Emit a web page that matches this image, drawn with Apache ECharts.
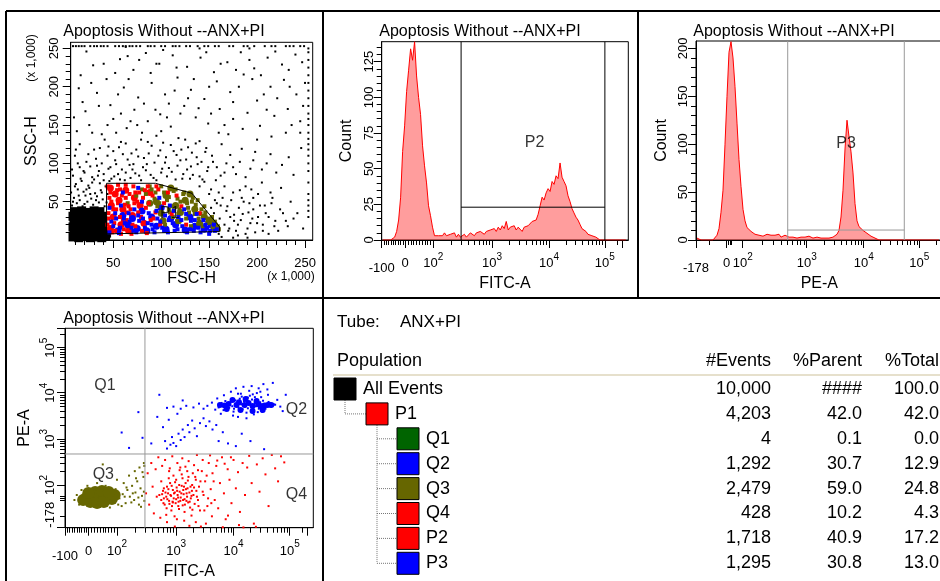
<!DOCTYPE html>
<html><head><meta charset="utf-8">
<script src="https://cdn.jsdelivr.net/npm/echarts@6/dist/echarts.min.js"></script>
<style>html,body{margin:0;padding:0;background:#fff}#c{width:940px;height:581px}</style>
</head><body><div id="c"></div>
<script>
// ===================== DATA =====================
const PLOT_TITLE = 'Apoptosis Without --ANX+PI';

// --- Top-left: FSC-H vs SSC-H (x 1,000) ---
const FSC_RANGE = [5.6, 258];
const SSC_RANGE = [0, 258];
const LIN_MAJOR = [50, 100, 150, 200, 250];
const LIN_MINOR = [10,20,30,40,60,70,80,90,110,120,130,140,160,170,180,190,210,220,230,240];
const LIN_LABELS = ['50', '100', '150', '200', '250'];

const P1_GATE = [[43,74],[94,74],[132,61],[161,17],[161,11],[43,8],[43,74]];
const P1_LABEL = [109, 35];

const BLACK_DENSE = [[8,4],[14,3],[20,5],[26,3],[32,4],[38,3],[42,5],[9,10],[15,11],[21,9],[27,11],[33,10],[39,11],[43,9],
 [8,17],[14,16],[20,18],[26,17],[32,16],[38,18],[9,24],[15,23],[21,25],[27,24],[33,23],[39,25],
 [8,31],[14,30],[20,32],[26,31],[32,30],[38,31],[10,37],[17,38],[24,36],[30,38],[36,37]];
const BLACK_DOTS = [[7,45],[12,48],[18,44],[23,50],[29,46],[35,49],[41,44],[9,55],[15,52],[21,58],[27,54],[33,57],[39,53],[44,60],[6,62],[13,66],[19,63],[25,68],[31,61],[37,65],[11,73],[17,77],[24,71],[30,79],[36,74],[42,70],[8,84],[20,88],[28,82],[35,90],[15,95],[40,86],[22,102],[33,97],[10,110],[45,93],
 [48,80],[55,86],[62,78],[70,92],[77,84],[85,99],[92,81],[100,88],[108,94],[115,79],[123,86],[131,96],[140,83],[148,90],[157,78],[166,88],[175,95],[188,82],[52,104],[60,112],[67,98],[74,118],[82,107],[90,123],[97,110],[104,101],[113,116],[120,104],[128,121],[137,108],[146,115],[154,102],[163,125],[172,111],[184,119],[196,104],[205,92],[214,112],[226,98],[238,85],[246,120],[58,128],[79,131],[95,136],[118,133],[140,129],[170,138],[200,131],[230,140],
 [12,142],[25,150],[38,138],[50,158],[64,146],[72,170],[86,155],[99,164],[110,148],[124,175],[136,160],[149,152],[161,171],[175,158],[190,166],[203,149],[218,162],[232,171],[245,155],[18,180],[33,192],[47,176],[61,199],[76,186],[90,205],[104,190],[117,212],[131,196],[145,184],[158,207],[172,193],[186,216],[200,182],[214,200],[228,209],[241,190],[16,215],[29,228],[43,210],[57,236],[71,222],[84,244],[98,230],[112,241],[127,226],[141,238],[155,219],[169,232],[183,245],[197,224],[211,238],[226,229],[240,242],[22,246],[66,210],[108,178],[150,200],[192,235],[236,150],[120,165],[80,140],[45,122],[30,118],[15,125],[55,190],[95,230],[175,180],[210,170],[250,205],[140,250],[65,240],
 [150,60],[156,52],[162,45],[168,38],[172,30],[176,25],[180,20],[185,34],[190,15],[195,28],[200,22],[206,12],[212,30],[218,18],[224,40],[230,25],[166,70],[175,62],[184,55],[192,48],[201,60],[208,45],[216,55],[225,68],[235,50],[242,35],[248,15],[160,8],[170,12],[180,6],[196,40],[205,75],[140,70],[145,76],[130,80],[188,70],
 [46,77],[51,83],[57,79],[63,88],[68,81],[73,87],[79,78],[84,91],[89,85],[95,78],[101,93],[106,83],[111,89],[117,97],[122,80],[127,92],[133,85],[138,99],[143,79],[149,95],[47,95],[53,99],[59,92],[65,105],[71,99],[76,109],[81,95],[87,113],[93,101],[99,117],[105,108],[110,124],[116,111],[121,118],[126,105],[132,114],[136,126],[142,102],[147,120],[153,110],[50,116],[56,121],[63,126],[69,113],[86,128],[102,127],[125,131],[158,95],[162,84],[168,100],[178,86],[182,102],[193,93],[198,115],[210,100],[220,88],[233,108],
 [8,50],[14,58],[20,47],[26,60],[32,52],[38,62],[43,49],[10,70],[16,80],[22,66],[28,75],[34,84],[40,78],[7,92],[13,100],[19,90],[26,96],[32,106],[38,100],[44,110],[11,118],[24,112],[36,120],[41,131],
 [152,42],[155,35],[158,48],[161,28],[164,55],[166,20],[169,44],[171,15],[173,52],[176,33],[178,12],[181,42],[183,26],[186,50],[188,8],[191,36],[193,22],[196,55],[198,10],[201,30],[203,45],[206,20],[209,35],[212,8],[215,48],[219,25],[222,12],[227,35],[232,18],[238,28],[163,4],[175,3],[190,3],[152,66],[160,62],[182,65],[194,66],[214,62],
 [9,160],[21,168],[35,175],[44,150],[58,165],[68,155],[82,178],[94,170],[106,160],[114,195],[128,185],[139,172],[152,165],[166,150],[181,200],[195,210],[207,190],[221,185],[234,200],[248,175],[14,198],[27,205],[40,230],[52,218],[63,252],[77,235],[89,218],[102,248],[116,225],[134,210],[147,245],[162,230],[178,222],[192,250],[204,215],[219,246],[233,222],[247,232],[28,140],[53,140],[75,150],[100,142],[160,140],[185,145],[215,135],[245,140]];
const SAT_TOP_X = [8,11,14,17,20,26,30,33,37,40,44,52,56,60,63,67,70,74,78,86,89,93,100,104,112,115,119,126,130,138,145,149,156,160,171,175,186,190,197,208,215,219,230,234,238,245,249];
const SAT_TOP_Y = 253;
const SAT_RIGHT_Y = [30,38,45,52,60,75,90,100,110,118,125,132,140,150,158,165,175,185,195,205,215,225,235,245,250];
const SAT_RIGHT_X = 253.5;

const P1_RED_BIG = [[47,15],[50,30],[48,45],[52,60],[47,68],[58,20],[60,40],[56,52],[63,65],[66,12],[70,32],[72,55],[78,45],[82,22],[88,62]];
const P1_BLUE_BIG = [[55,12],[65,20],[75,15],[85,12],[95,18],[105,14],[115,20],[125,13],[135,18],[145,14],[152,20],[70,28],[90,30],[110,28],[130,30],[60,32],[100,42],[80,38]];
const P1_OLIVE_BIG = [[95,50],[105,58],[115,45],[125,52],[120,36],[135,40],[145,30],[140,22],[110,68],[100,35],[88,48],[130,60],[150,24],[155,16],[118,25],[102,25]];
const P1_RED = [[44,20],[45,35],[46,55],[44,70],[49,10],[51,22],[53,40],[54,65],[57,30],[59,58],[61,14],[62,46],[64,26],[67,60],[68,40],[71,70],[73,18],[75,50],[77,62],[79,30],[81,55],[84,42],[86,70],[89,26],[91,58],[94,36],[97,66],[99,20],[103,48],[107,62],[111,34],[116,58],[121,44],[126,20],[48,50],[55,72],[63,72],[69,8],[85,9],[140,35],
 [45,28],[47,62],[50,40],[52,12],[55,48],[57,66],[60,25],[63,55],[66,44],[70,20],[73,62],[76,36],[80,12],[83,65],[87,48],[92,28],[95,70],[58,8],[64,36],[72,48]];
const P1_BLUE = [[46,10],[50,18],[53,28],[56,9],[58,45],[62,22],[66,35],[69,16],[72,40],[74,10],[77,25],[80,50],[83,16],[87,35],[90,20],[93,10],[96,28],[98,55],[101,16],[104,32],[107,10],[109,45],[112,22],[114,12],[118,30],[122,18],[124,40],[127,10],[131,25],[134,12],[137,34],[141,10],[144,26],[148,16],[151,12],[155,20],[158,14],[46,42],[60,62],[76,68],
 [48,24],[52,35],[57,16],[61,28],[67,24],[71,12],[76,32],[81,28],[86,22],[91,14],[95,38],[99,24],[103,12],[108,26],[113,38],[117,14],[121,26],[126,34],[130,14],[135,26],[139,16],[146,20],[150,8],[156,12]];
const P1_OLIVE = [[84,60],[90,66],[96,44],[100,70],[106,52],[108,40],[113,64],[117,54],[119,40],[123,60],[127,48],[129,36],[133,55],[136,46],[139,28],[142,40],[146,36],[149,28],[153,30],[156,24],[159,18],[112,30],[104,20],[93,54],[126,28],[65,48],[74,58],[80,66],[131,18],[143,18],
 [88,70],[94,62],[98,48],[103,62],[108,56],[111,44],[115,66],[120,50],[124,62],[128,42],[132,50],[135,34],[138,52],[141,34],[145,44],[148,22],[152,26],[157,20],[160,14],[118,34],[109,36]];

// --- Logicle-style display scales: [value, display channel] ---
const FITC_ANCHORS = [[-100,0],[0,23.5],[100,51.8],[1000,110.8],[10000,168],[100000,224],[262144,241]];
const PE_H_ANCHORS = [[-178,0],[0,30.7],[100,46.7],[1000,110.7],[10000,167.7],[100000,223.3],[262144,246.6]];
const PE_D_ANCHORS = [[-178,0],[0,26],[100,42.7],[1000,88.7],[10000,135],[100000,180],[262144,199]];
const FITC_RANGE = [-100, 379000];
const PE_H_RANGE = [-178, 262144];
const PE_D_RANGE = [-178, 267000];

const FITC_TICKS_MAJOR = [-100,0,100,1000,10000,100000,262144];
const FITC_TICKS_MINOR = [-90,-80,-70,-60,-50,-40,-30,-20,-10,10,20,30,40,50,60,70,80,90,
  200,300,400,500,600,700,800,900,2000,3000,4000,5000,6000,7000,8000,9000,
  20000,30000,40000,50000,60000,70000,80000,90000,200000];
const FITC_LABEL_VALUES = [-100,0,100,1000,10000,100000];
const FITC_LABEL_TEXT = ['-100','0','10^2','10^3','10^4','10^5'];

const PE_TICKS_MAJOR = [-178,0,100,1000,10000,100000,262144];
const PE_TICKS_MINOR = [-100,10,20,30,200,300,400,500,600,700,800,900,2000,3000,4000,5000,6000,7000,8000,9000,
  20000,30000,40000,50000,60000,70000,80000,90000,200000];
const PE_LABEL_VALUES = [-178,0,100,1000,10000,100000];
const PE_LABEL_TEXT = ['-178','0','10^2','10^3','10^4','10^5'];

// --- Histograms (counts per 2-channel bin, from channel 0) ---
const HIST_BIN = 2;
const FITC_COUNT_RANGE = [0, 139];
const FITC_COUNT_MAJOR = [0,25,50,75,100,125];
const FITC_COUNT_MINOR = [5,10,15,20,30,35,40,45,55,60,65,70,80,85,90,95,105,110,115,120,130,135];
const FITC_COUNT_LABELS = ['0','25','50','75','100','125'];
const FITC_HIST_COUNTS = [0,0,0,0,0,1,
  2,6,14,30,62,80,104,119,134,126,139,115,100,88,66,52,40,24,17,9,3,2,3,
  4,3,5,3,2,4,3,5,2,4,
  2,3,4,2,3,5,4,3,5,4,6,5,4,6,5,7,6,
  8,6,9,7,10,8,13,7,9,8,10,7,9,8,6,9,8,10,11,13,
  12,14,18,24,30,28,33,36,34,41,39,45,43,54,44,41,38,31,27,22,19,16,14,11,8,7,6,4,5,3,2,2,1,
  0,0,0,0,0,0,0,0,0,0,0,0,0,0];
const P2_GATE = {from: 297, to: 100000, count: 23};
const P2_LABEL = [5570, 68];

const PE_COUNT_RANGE = [0, 207.7];
const PE_COUNT_MAJOR = [0,50,100,150,200];
const PE_COUNT_MINOR = [10,20,30,40,60,70,80,90,110,120,130,140,160,170,180,190];
const PE_COUNT_LABELS = ['0','50','100','150','200'];
const PE_HIST_COUNTS = [2,1,0,0,0,0,0,1,0,2,
  5,12,29,52,100,150,196,207,190,160,122,84,56,32,20,13,11,9,8,
  6,7,5,6,4,5,6,4,5,3,5,4,6,3,4,5,
  4,3,5,3,4,2,4,3,5,3,2,4,3,2,4,3,3,2,4,2,3,2,4,3,5,
  6,10,24,52,95,125,108,92,70,38,20,14,12,10,8,7,5,4,3,2,1,
  0,0,0,0,0,0,0,0,0,0,0,0,0,0,0,0,0,0,0,0,0,0,0,0,0,0,0,0,0,0,0];
const P3_GATE = {from: 505, to: 53700, count: 10.4};
const P3_LABEL = [4900, 101];

// --- Bottom-left: FITC-A vs PE-A (real values) ---
const QUAD_FITC = 297;
const QUAD_PE = 472;
const Q_LABELS = [['Q1',58,14600],['Q2',147000,4230],['Q3',52,165],['Q4',147000,40]];
const Q3_CORE = [[-10,22],[16,34],[40,34],[64,28],[82,16],[6,-2],[30,-9],[54,-2],[23,58],[47,64],[-23,10],[92,40],[-1,52],[71,58]];
const Q3_DOTS = [[110,20],[125,45],[140,-10],[150,70],[165,30],[180,95],[195,10],[205,55],[220,120],[235,-20],[250,80],[265,35],[280,150],[290,5],[130,110],[160,160],[200,200],[240,240],[270,190],[120,-30],[145,85],[175,-5],[210,140],[255,-35],[285,60],[95,75],[105,-20],[135,30],[185,50],[230,25],[-60,10],[-50,40],[-40,-20],[-30,70],[60,95],[75,-40],[30,110],[-5,95],[50,280],[100,130],[290,260],[285,300]];
const Q2_CORE = [[5800,5420],[8180,5700],[11300,5420],[15700,5420],[21800,5160],[30300,5160],[40500,5420],[9600,6960],[16400,7300],[25700,6600],[13300,4230],[21800,4000],[7600,4450],[33000,4230],[12500,6200],[18500,6000],[27500,5600],[35500,5300],[7000,5300],[47000,5400]];
const Q2_DOTS = [[3500,5200],[4200,6100],[4800,4300],[5200,7500],[6000,3500],[6800,8800],[7500,5000],[9000,10500],[9800,3200],[11000,12500],[12000,3000],[13500,9500],[15000,13500],[17000,2800],[19000,11000],[21000,14000],[23000,3400],[26000,9800],[28000,12500],[31000,8000],[34000,15500],[37000,4500],[41000,9000],[45000,6000],[50000,16500],[55000,5500],[60000,7000],[68000,5000],[75000,4000],[85000,9000],[3000,4500],[2500,5800],[2000,4800],[1500,5200],[1200,4500],[900,5000],[700,4700],[18000,7800],[25000,6200],[40000,11800],
 [650,900],[700,620],[800,750],[850,1100],[900,820],[1000,700],[1100,1300],[1200,950],[1300,1600],[1400,1100],[1600,2000],[1700,1400],[1900,2500],[2100,1700],[2300,1150],[2600,2200],[3000,2800],[3300,1900],[3800,2400],[4300,1600],[5000,2000],[5500,900],[6500,1400],[8000,800],[11000,700],[14000,1300],[20000,900],[35000,600],[600,1800],[480,3000],[380,800],[1050,3500],[750,2600],[1300,6800],[520,9000],
 [5500,4800],[6200,6000],[6700,4200],[7200,6600],[7800,5300],[8400,4700],[8900,6300],[9500,5100],[10200,4500],[10800,6800],[11500,5900],[12200,4800],[12900,7400],[13700,5600],[14500,4400],[15300,6500],[16200,5000],[17100,7900],[18000,4600],[19000,6100],[20100,5400],[21300,7100],[22500,4700],[23800,5900],[25100,5100],[26600,7000],[28200,4500],[29800,6200],[31500,5300],[33500,6700],[35500,4800],[38000,5700],[42000,6300],[46000,5000],[52000,5600],[14000,8200],[19500,8600],[24000,8000],[27000,3800],[10000,3900],[17000,3700],[32000,3900],[12000,9500],[22000,9200],[30000,10500]];
const Q1_DOTS = [[120,1380],[230,3800],[270,1060],[160,640]];
const Q4_DOTS = [[520,40],[560,10],[600,65],[640,-20],[680,30],[700,90],[730,50],[760,5],[790,110],[820,35],[850,-30],[880,70],[910,20],[950,55],[980,-10],[1020,85],[1060,40],[1100,0],[1150,60],[1200,25],[1250,95],[1300,-25],[1350,45],[1400,15],[1480,75],[1550,30],[1620,-5],[1700,55],[1800,20],[1900,100],[2000,40],[2100,-15],[2250,65],[2400,10],[560,120],[620,80],[690,-45],[750,140],[830,-60],[900,160],[1000,130],[1120,-50],[1250,170],[1400,-70],[1600,125],[1750,-40],[1950,180],[2200,130],[2500,90],[620,20],[880,-5],[1080,25],[1330,70],[1520,50],[1880,65],
 [310,50],[330,180],[350,-20],[380,300],[400,90],[420,-80],[450,220],[470,30],[500,400],[540,-110],[580,260],[650,350],[700,-140],[780,230],[860,420],[940,-100],[1050,300],[1150,210],[1280,380],[1380,-130],[1450,250],[1650,330],[1850,-95],[2050,270],[2300,450],[2600,-60],[2800,200],[3000,40],[3200,120],[3500,-30],[3700,300],[4000,75],[4300,180],[4700,10],[5000,260],[5400,-45],[5800,110],[6300,400],[6800,50],[7300,-120],[7900,220],[8500,130],[9200,-10],[10000,350],[11000,80],[12000,190],[13000,-70],[14500,300],[16000,40],[17500,240],[19000,430],[21000,110],[23000,-150],[26000,280],[29000,60],[33000,380],[37000,170],[42000,-30],[48000,450],[55000,230],[62000,120],[70000,420],[80000,310],[3300,-150],[2700,-170],[6500,-175],[15000,-176],[25000,-172],[8000,-95],[12500,-160],[4200,-100],[2200,-140],[1700,-165],[950,-170],[5200,340],[7000,290],[9000,400],[3900,440],[2900,350],
 [580,45],[610,-10],[660,55],[710,15],[740,75],[770,-15],[800,40],[840,95],[870,0],[920,50],[960,115],[1000,15],[1040,65],[1090,-30],[1130,100],[1180,5],[1230,50],[1290,140],[1320,10],[1370,90],[1420,-20],[1460,110],[1510,5],[1580,80],[1640,150],[1720,0],[1780,90],[1850,35],[1920,-55],[2050,85],[2150,150],[2300,30],[2450,-30],[2650,120],[2900,60],[3100,-60],[3400,160],[3600,20],[4100,-10],[4500,120],[760,200],[1180,240],[1560,200],[2400,210],[680,-90],[1030,-120]];

// --- Statistics table ---
const TUBE_NAME = 'ANX+PI';
const TABLE_HEADERS = ['Population', '#Events', '%Parent', '%Total'];
const POP_NAMES = ['All Events','P1','Q1','Q2','Q3','Q4','P2','P3'];
const POP_LEVEL = [0,1,2,2,2,2,2,2];
const POP_COLORS = ['#000000','#ff0000','#006400','#0000ff','#666600','#ff0000','#ff0000','#0000ff'];
const POP_EVENTS = [10000,4203,4,1292,2479,428,1718,1295];
const POP_PARENT = [null,42.0,0.1,30.7,59.0,10.2,40.9,30.8];
const POP_TOTAL = [100.0,42.0,0.0,12.9,24.8,4.3,17.2,13.0];

// ===================== HELPERS =====================
const FONT = "'Liberation Sans', Arial, sans-serif";
const TICK_FONT = "'Liberation Sans Narrow', 'Liberation Sans', Arial, sans-serif";
const RED = '#ff0000', BLUE = '#0000ff', OLIVE = '#666600';

function makeMap(anchors) {
  return function (v) {
    const n = anchors.length;
    for (let i = 0; i < n - 1; i++) {
      const a = anchors[i], b = anchors[i + 1];
      if (v <= b[0] || i === n - 2) {
        if (a[0] >= 100) {
          const lv = Math.log10(Math.max(v, 1));
          return a[1] + (lv - Math.log10(a[0])) / (Math.log10(b[0]) - Math.log10(a[0])) * (b[1] - a[1]);
        }
        return a[1] + (v - a[0]) / (b[0] - a[0]) * (b[1] - a[1]);
      }
    }
  };
}
const ident = v => v;
const fitcMap = makeMap(FITC_ANCHORS), peHMap = makeMap(PE_H_ANCHORS), peDMap = makeMap(PE_D_ANCHORS);

const RICH = {
  b: {fontSize: 13, fontFamily: TICK_FONT, color: '#000', padding: [5, 0, 0, 0], verticalAlign: 'bottom'},
  s: {fontSize: 10, fontFamily: TICK_FONT, color: '#000', verticalAlign: 'top'},
  lo: {fontSize: 13, fontFamily: TICK_FONT, color: '#000', padding: [10, 0, 0, 0], verticalAlign: 'bottom'}
};
function fmtLabel(t) {
  if (!t) return '';
  if (t.indexOf('^') > 0) { const p = t.split('^'); return '{b|' + p[0] + '}{s|' + p[1] + '}'; }
  if (t.charAt(0) === '-') return '{lo|' + t + '}';
  return '{b|' + t + '}';
}

function axisPair(dim, g, cfg) {
  const m = cfg.map || ident;
  const texts = {};
  cfg.labels.forEach((v, i) => { texts[m(v).toFixed(3)] = cfg.texts[i]; });
  const base = {type: 'value', gridIndex: g, min: m(cfg.range[0]), max: m(cfg.range[1]),
    splitLine: {show: false}, splitArea: {show: false}, position: dim === 'x' ? 'bottom' : 'left'};
  const major = Object.assign({}, base, {
    axisLine: {show: true, onZero: false, lineStyle: {color: '#000', width: 1}},
    axisTick: {show: true, length: 8, customValues: cfg.major.map(m), lineStyle: {color: '#000', width: 1}},
    axisLabel: {show: true, customValues: cfg.labels.map(m), margin: cfg.margin,
      rotate: dim === 'y' ? 90 : 0, hideOverlap: false, showMinLabel: true, showMaxLabel: true,
      alignMinLabel: cfg.alignMin || null,
      formatter: v => fmtLabel(texts[Number(v).toFixed(3)]), rich: RICH},
    name: cfg.name, nameLocation: 'middle', nameGap: cfg.nameGap,
    nameTextStyle: {fontSize: 16, fontFamily: FONT, color: '#000'}
  });
  const minor = Object.assign({}, base, {
    axisLine: {show: false, onZero: false},
    axisTick: {show: true, length: 5, customValues: cfg.minor.map(m), lineStyle: {color: '#000', width: 1}},
    axisLabel: {show: false}
  });
  return [major, minor];
}

// ===================== AXES =====================
const xAxes = [], yAxes = [];
xAxes.push(...axisPair('x', 0, {range: FSC_RANGE, major: LIN_MAJOR, minor: LIN_MINOR, labels: LIN_MAJOR, texts: LIN_LABELS, name: 'FSC-H', nameGap: 27, margin: 12}));
yAxes.push(...axisPair('y', 0, {range: SSC_RANGE, major: LIN_MAJOR, minor: LIN_MINOR, labels: LIN_MAJOR, texts: LIN_LABELS, name: 'SSC-H', nameGap: 31, margin: 10}));
xAxes.push(...axisPair('x', 1, {map: fitcMap, range: FITC_RANGE, major: FITC_TICKS_MAJOR, minor: FITC_TICKS_MINOR, labels: FITC_LABEL_VALUES, texts: FITC_LABEL_TEXT, name: 'FITC-A', nameGap: 35, margin: 12}));
yAxes.push(...axisPair('y', 1, {range: FITC_COUNT_RANGE, major: FITC_COUNT_MAJOR, minor: FITC_COUNT_MINOR, labels: FITC_COUNT_MAJOR, texts: FITC_COUNT_LABELS, name: 'Count', nameGap: 27, margin: 6}));
xAxes.push(...axisPair('x', 2, {map: peHMap, range: PE_H_RANGE, major: PE_TICKS_MAJOR, minor: PE_TICKS_MINOR, labels: PE_LABEL_VALUES, texts: PE_LABEL_TEXT, name: 'PE-A', nameGap: 34, margin: 12}));
yAxes.push(...axisPair('y', 2, {range: PE_COUNT_RANGE, major: PE_COUNT_MAJOR, minor: PE_COUNT_MINOR, labels: PE_COUNT_MAJOR, texts: PE_COUNT_LABELS, name: 'Count', nameGap: 26, margin: 6}));
xAxes.push(...axisPair('x', 3, {map: fitcMap, range: FITC_RANGE, major: FITC_TICKS_MAJOR, minor: FITC_TICKS_MINOR, labels: FITC_LABEL_VALUES, texts: FITC_LABEL_TEXT, name: 'FITC-A', nameGap: 34, margin: 12}));
yAxes.push(...axisPair('y', 3, {map: peDMap, range: PE_D_RANGE, major: PE_TICKS_MAJOR, minor: PE_TICKS_MINOR, labels: PE_LABEL_VALUES, texts: PE_LABEL_TEXT, name: 'PE-A', nameGap: 32, margin: 8, alignMin: 'left'}));

// ===================== SERIES =====================
const S = [];
function scat(g, data, color, size, symbol, z) {
  S.push({type: 'scatter', xAxisIndex: 2 * g, yAxisIndex: 2 * g, data: data, symbol: symbol || 'rect',
    symbolSize: size, itemStyle: {color: color, opacity: 1}, silent: true, z: z || 2, animation: false});
}
function lineS(g, data, color, z) {
  S.push({type: 'line', xAxisIndex: 2 * g, yAxisIndex: 2 * g, data: data, symbol: 'none', silent: true,
    lineStyle: {color: color, width: 1}, z: z || 6, animation: false});
}
function labelPt(g, pt, text) {
  S.push({type: 'scatter', xAxisIndex: 2 * g, yAxisIndex: 2 * g, data: [pt], symbolSize: 0, silent: true, z: 12,
    label: {show: true, position: 'inside', formatter: text, fontSize: 16, fontFamily: FONT, color: '#000'}});
}
function hist(g, counts) {
  S.push({type: 'line', xAxisIndex: 2 * g, yAxisIndex: 2 * g, symbol: 'none', silent: true, z: 3,
    data: counts.map((c, i) => [(i + 0.5) * HIST_BIN, c]),
    lineStyle: {color: RED, width: 1}, areaStyle: {color: 'rgba(255,0,0,0.55)'}});
}

// top-left
scat(0, BLACK_DENSE, '#000', 9, 'rect', 2);
scat(0, BLACK_DOTS, '#000', 2, 'rect', 2);
scat(0, SAT_TOP_X.map(x => [x, SAT_TOP_Y]), '#000', 2, 'rect', 2);
scat(0, SAT_RIGHT_Y.map(y => [SAT_RIGHT_X, y]), '#000', 2, 'rect', 2);
scat(0, P1_RED_BIG, RED, 7, 'circle', 3);
scat(0, P1_BLUE_BIG, BLUE, 7, 'circle', 3);
scat(0, P1_OLIVE_BIG, OLIVE, 7, 'circle', 3);
scat(0, P1_OLIVE, OLIVE, 4, 'rect', 4);
scat(0, P1_RED, RED, 4, 'rect', 4);
scat(0, P1_BLUE, BLUE, 4, 'rect', 4);
lineS(0, P1_GATE, '#000', 8);
labelPt(0, P1_LABEL, 'P1');

// top-middle histogram
hist(1, FITC_HIST_COUNTS);
const fy = FITC_COUNT_RANGE[1];
lineS(1, [[fitcMap(P2_GATE.from), 0], [fitcMap(P2_GATE.from), fy]], '#000');
lineS(1, [[fitcMap(P2_GATE.to), 0], [fitcMap(P2_GATE.to), fy]], '#000');
lineS(1, [[fitcMap(P2_GATE.from), P2_GATE.count], [fitcMap(P2_GATE.to), P2_GATE.count]], '#000');
labelPt(1, [fitcMap(P2_LABEL[0]), P2_LABEL[1]], 'P2');

// top-right histogram
hist(2, PE_HIST_COUNTS);
const py = PE_COUNT_RANGE[1];
lineS(2, [[peHMap(P3_GATE.from), 0], [peHMap(P3_GATE.from), py]], '#999');
lineS(2, [[peHMap(P3_GATE.to), 0], [peHMap(P3_GATE.to), py]], '#999');
lineS(2, [[peHMap(P3_GATE.from), P3_GATE.count], [peHMap(P3_GATE.to), P3_GATE.count]], '#999');
labelPt(2, [peHMap(P3_LABEL[0]), P3_LABEL[1]], 'P3');

// bottom-left dot plot
const tr = pts => pts.map(p => [fitcMap(p[0]), peDMap(p[1])]);
scat(3, tr(Q3_CORE), OLIVE, 12, 'circle', 3);
scat(3, tr(Q3_DOTS), OLIVE, 2, 'rect', 3);
scat(3, tr(Q2_CORE), BLUE, 6, 'circle', 3);
scat(3, tr(Q2_DOTS), BLUE, 2, 'rect', 3);
scat(3, tr(Q1_DOTS), BLUE, 2, 'rect', 3);
scat(3, tr(Q4_DOTS), RED, 2, 'rect', 3);
const dx0 = fitcMap(FITC_RANGE[0]), dx1 = fitcMap(FITC_RANGE[1]), dy0 = peDMap(PE_D_RANGE[0]), dy1 = peDMap(PE_D_RANGE[1]);
lineS(3, [[fitcMap(QUAD_FITC), dy0], [fitcMap(QUAD_FITC), dy1]], '#999');
lineS(3, [[dx0, peDMap(QUAD_PE)], [dx1, peDMap(QUAD_PE)]], '#999');
Q_LABELS.forEach(q => labelPt(3, [fitcMap(q[1]), peDMap(q[2])], q[0]));

// ===================== GRAPHICS (frames, titles, table) =====================
const G = [];
function txt(t, x, y, align, size, extra) {
  return Object.assign({type: 'text', x: x, y: y, silent: true, z: 20,
    style: {text: t, fill: '#000', fontSize: size || 16, fontFamily: FONT, align: align || 'left', verticalAlign: 'middle'}}, extra || {});
}
function ln(x1, y1, x2, y2, w, color, dash) {
  return {type: 'line', silent: true, z: 20, shape: {x1: x1, y1: y1, x2: x2, y2: y2},
    style: {stroke: color || '#000', lineWidth: w || 1, lineDash: dash || null}};
}
// panel frames
G.push(ln(6, 11, 940, 11, 2), ln(6, 11, 6, 581, 2), ln(323, 11, 323, 581, 2), ln(638, 11, 638, 298, 2), ln(6, 298, 940, 298, 2));
// titles
[[164, 32], [480, 32], [794, 32], [164, 319]].forEach(p => G.push(txt(PLOT_TITLE, p[0], p[1], 'center', 16)));
G.push(txt('(x 1,000)', 291, 277, 'center', 12));
G.push(txt('(x 1,000)', 32, 58, 'center', 12, {rotation: Math.PI / 2}));

// table
G.push(txt('Tube:', 337, 322, 'left', 17), txt(TUBE_NAME, 400, 322, 'left', 17));
const HDR_Y = 361;
const COL_RIGHT = [771, 862, 939];
G.push(txt(TABLE_HEADERS[0], 337, HDR_Y, 'left', 18));
for (let k = 1; k < 4; k++) G.push(txt(TABLE_HEADERS[k], COL_RIGHT[k - 1], HDR_Y, 'right', 18));
G.push(ln(333, 375, 940, 375, 2, '#e6e0cc'));
const ROW_Y0 = 389, ROW_H = 24.9, BOX_X = [334, 366, 397], BOX = 22;
const rowY = i => ROW_Y0 + i * ROW_H;
POP_NAMES.forEach((name, i) => {
  const y = rowY(i), bx = BOX_X[POP_LEVEL[i]];
  G.push({type: 'rect', silent: true, z: 21, shape: {x: bx, y: y - BOX / 2, width: BOX, height: BOX},
    style: {fill: POP_COLORS[i], stroke: '#000', lineWidth: 1}});
  G.push(txt(name, bx + 29, y, 'left', 18));
  G.push(txt(POP_EVENTS[i].toLocaleString('en-US'), COL_RIGHT[0], y, 'right', 18));
  G.push(txt(POP_PARENT[i] === null ? '####' : POP_PARENT[i].toFixed(1), COL_RIGHT[1], y, 'right', 18));
  G.push(txt(POP_TOTAL[i].toFixed(1), COL_RIGHT[2], y, 'right', 18));
  if (POP_LEVEL[i] > 0) {
    const px = BOX_X[POP_LEVEL[i] - 1] + BOX / 2;
    G.push(ln(px, y, bx, y, 1, '#777', [1, 1]));
  }
});
// tree verticals
G.push(ln(BOX_X[0] + BOX / 2, rowY(0) + BOX / 2, BOX_X[0] + BOX / 2, rowY(1), 1, '#777', [1, 1]));
G.push(ln(BOX_X[1] + BOX / 2, rowY(1) + BOX / 2, BOX_X[1] + BOX / 2, rowY(POP_NAMES.length - 1), 1, '#777', [1, 1]));

// ===================== CHART =====================
const gridBase = {show: true, borderColor: '#000', borderWidth: 1, backgroundColor: 'transparent', containLabel: false, outerBoundsMode: 'none'};
const option = {
  animation: false,
  backgroundColor: '#ffffff',
  grid: [
    Object.assign({left: 70.7, top: 42.3, width: 242, height: 197.7}, gridBase),
    Object.assign({left: 381.7, top: 41.7, width: 246.6, height: 198.3}, gridBase),
    Object.assign({left: 696, top: 41, width: 246.6, height: 199}, gridBase),
    Object.assign({left: 65, top: 328.3, width: 248.3, height: 199.4}, gridBase)
  ],
  xAxis: xAxes,
  yAxis: yAxes,
  series: S,
  graphic: {elements: G}
};
const chart = echarts.init(document.getElementById('c'), null, {renderer: 'canvas', width: 940, height: 581});
chart.setOption(option);
</script>
</body></html>
